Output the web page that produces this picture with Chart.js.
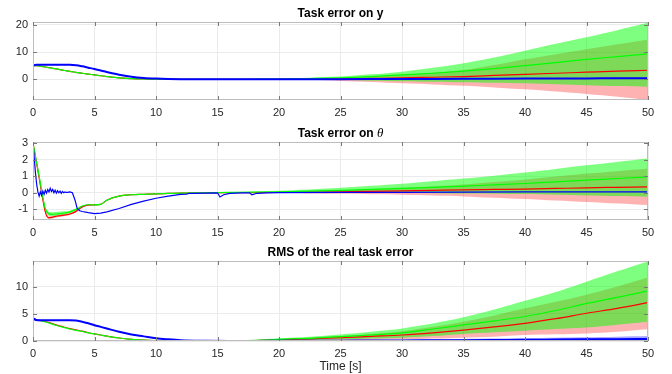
<!DOCTYPE html>
<html>
<head>
<meta charset="utf-8">
<script src="https://cdn.jsdelivr.net/npm/chart.js@4/dist/chart.umd.min.js"></script>
<style>
  html, body { margin: 0; padding: 0; background: #ffffff; }
  #wrap { position: relative; width: 672px; height: 374px; overflow: hidden; background: #ffffff; }
  #wrap canvas { position: absolute; left: 0; }
</style>
</head>
<body>
<div id="wrap">
  <canvas id="cY" width="672" height="120" style="top:0px"></canvas>
  <canvas id="cT" width="672" height="120" style="top:120px"></canvas>
  <canvas id="cR" width="672" height="134" style="top:240px"></canvas>
</div>
<script>
// ---- time bases [s] ----
const time = [0, 0.25, 0.5, 0.75, 1, 1.25, 1.5, 2, 2.5, 3, 3.5, 4, 4.5, 5, 5.5, 6, 7, 8, 9, 10,
              11, 12, 14, 16, 18, 20, 22.5, 25, 27.5, 30, 32.5, 35, 37.5, 40, 42.5, 45, 47.5, 50];
const lateTime = [14, 16, 18, 20, 22.5, 25, 27.5, 30, 32.5, 35, 37.5, 40, 42.5, 45, 47.5, 50];

// ---- tick labels ----
const xTicks = [0, 5, 10, 15, 20, 25, 30, 35, 40, 45, 50];
const yTicksY = [0, 10, 20];
const yTicksTheta = [-1, 0, 1, 2, 3];
const yTicksRms = [0, 5, 10];

// ---- task error on y ----
const yGreen = [5.0, 5.0, 4.9, 4.7, 4.5, 4.3, 4.1, 3.7, 3.3, 2.9, 2.55, 2.2, 1.9, 1.6, 1.3, 1.0, 0.5, 0.25, 0.1, 0.05,
                0.02, 0.0, 0.0, 0.0, 0.02, 0.05, 0.25, 0.55, 1.0, 1.6, 2.2, 3.0, 3.9, 5.0, 6.1, 7.3, 8.3, 9.3];
const yRed   = [5.0, 5.0, 4.9, 4.7, 4.5, 4.3, 4.1, 3.7, 3.3, 2.9, 2.55, 2.2, 1.9, 1.6, 1.3, 1.0, 0.5, 0.25, 0.1, 0.05,
                0.02, 0.0, 0.0, 0.0, 0.0, 0.0, 0.05, 0.1, 0.3, 0.5, 0.75, 1.0, 1.4, 1.8, 2.2, 2.6, 3.0, 3.3];
const yBlue  = [5.0, 5.3, 5.3, 5.3, 5.3, 5.3, 5.3, 5.3, 5.3, 5.3, 5.15, 4.75, 4.25, 3.75, 3.2, 2.65, 1.65, 0.95, 0.5, 0.25,
                0.1, 0.03, 0.0, 0.0, 0.0, 0.0, 0.02, 0.04, 0.06, 0.08, 0.12, 0.16, 0.2, 0.24, 0.28, 0.32, 0.36, 0.4];
const yGreenHi = [0.0, 0.03, 0.12, 0.3, 0.6, 1.0, 1.8, 2.8, 4.2, 5.9, 8.0, 10.5, 13.0, 15.4, 18.0, 20.7];
const yGreenLo = [0.0, 0.0, -0.03, -0.08, -0.15, -0.3, -0.5, -0.7, -0.9, -1.1, -1.3, -1.5, -1.85, -2.2, -2.5, -2.7];
const yRedHi   = [0.0, 0.02, 0.05, 0.12, 0.3, 0.6, 1.0, 1.6, 2.4, 3.4, 5.2, 7.3, 9.2, 11.0, 12.8, 14.6];
const yRedLo   = [0.0, -0.02, -0.05, -0.12, -0.3, -0.6, -1.0, -1.5, -1.9, -2.4, -3.0, -3.7, -4.5, -5.4, -6.4, -7.6];

// ---- task error on theta ----
const thetaGreen   = [3.0, 2.0, 1.0, -0.05, -0.95, -1.25, -1.3, -1.27, -1.22, -1.15, -1.0, -0.8, -0.72, -0.73, -0.7, -0.45, -0.2, -0.12, -0.09, -0.06,
                      -0.04, -0.02, 0.0, 0.02, 0.04, 0.06, 0.1, 0.15, 0.2, 0.27, 0.33, 0.4, 0.48, 0.56, 0.66, 0.76, 0.86, 0.96];
const thetaGreenHi = [3.0, 2.05, 1.1, 0.05, -0.85, -1.13, -1.18, -1.15, -1.12, -1.08, -0.95, -0.78, -0.7, -0.72, -0.7, -0.45, -0.2, -0.12, -0.09, -0.06,
                      -0.04, -0.02, 0.0, 0.04, 0.08, 0.12, 0.2, 0.3, 0.42, 0.55, 0.7, 0.86, 1.03, 1.22, 1.44, 1.66, 1.86, 2.06];
const thetaGreenLo = [3.0, 1.95, 0.9, -0.15, -1.05, -1.37, -1.4, -1.37, -1.32, -1.24, -1.06, -0.83, -0.74, -0.74, -0.7, -0.45, -0.2, -0.12, -0.09, -0.06,
                      -0.04, -0.02, 0.0, 0.0, 0.0, 0.0, 0.0, 0.0, -0.01, -0.02, -0.03, -0.05, -0.06, -0.08, -0.12, -0.16, -0.2, -0.24];
const thetaRed     = [3.0, 1.95, 0.9, -0.2, -1.15, -1.5, -1.48, -1.4, -1.35, -1.28, -1.12, -0.85, -0.74, -0.73, -0.7, -0.45, -0.2, -0.12, -0.09, -0.06,
                      -0.04, -0.02, 0.0, 0.01, 0.01, 0.02, 0.04, 0.06, 0.09, 0.12, 0.15, 0.18, 0.2, 0.22, 0.26, 0.3, 0.33, 0.36];
const thetaRedHi   = [3.0, 2.0, 0.98, -0.12, -1.07, -1.42, -1.4, -1.33, -1.28, -1.22, -1.07, -0.82, -0.72, -0.72, -0.7, -0.45, -0.2, -0.12, -0.09, -0.06,
                      -0.04, -0.02, 0.0, 0.02, 0.03, 0.05, 0.1, 0.15, 0.22, 0.3, 0.4, 0.5, 0.65, 0.8, 0.98, 1.16, 1.3, 1.46];
const thetaRedLo   = [3.0, 1.9, 0.82, -0.28, -1.23, -1.58, -1.56, -1.47, -1.42, -1.34, -1.17, -0.88, -0.76, -0.74, -0.7, -0.45, -0.2, -0.12, -0.09, -0.06,
                      -0.04, -0.02, 0.0, 0.0, -0.01, -0.02, -0.04, -0.06, -0.09, -0.12, -0.17, -0.22, -0.3, -0.38, -0.47, -0.56, -0.65, -0.74];
const thetaBlueTime = [0, 0.1, 0.2, 0.3, 0.4, 0.5, 0.6, 0.7, 0.8, 0.9,
                       1.0, 1.1, 1.2, 1.3, 1.4, 1.5, 1.6, 1.7, 1.8, 1.9,
                       2.0, 2.1, 2.2, 2.3, 2.4, 2.5, 2.6, 2.7, 2.8, 3.0,
                       3.2, 3.4, 3.6, 3.8, 4.0, 4.5, 5.0, 5.5, 6, 7,
                       8, 9, 10, 11, 12, 12.5, 12.7, 13, 14, 15,
                       15.2, 15.5, 16, 17, 17.6, 17.8, 18.2, 19, 20, 25,
                       30, 35, 40, 45, 50];
const thetaBlue = [3.0, 2.1, 1.2, 0.5, 0.05, -0.2, 0.05, -0.15, 0.1, -0.1,
                   0.15, -0.02, 0.2, 0.05, 0.27, 0.08, 0.2, 0.0, 0.15, -0.02,
                   0.12, 0.0, 0.1, -0.03, 0.08, 0.0, 0.05, 0.02, 0.03, 0.05,
                   0.0, -0.4, -0.95, -1.08, -1.13, -1.2, -1.25, -1.23, -1.15, -0.95,
                   -0.7, -0.5, -0.33, -0.2, -0.1, -0.08, -0.03, -0.04, -0.02, 0.0,
                   -0.25, -0.12, -0.04, 0.0, 0.0, -0.12, -0.03, 0.0, 0.01, 0.02,
                   0.03, 0.04, 0.05, 0.05, 0.06];

// ---- RMS of the real task error ----
const rmsGreen = [4.2, 3.95, 3.8, 3.65, 3.5, 3.35, 3.15, 2.8, 2.5, 2.2, 1.95, 1.75, 1.5, 1.3, 1.1, 0.9, 0.55, 0.3, 0.15, 0.08,
                  0.04, 0.02, 0.01, 0.05, 0.12, 0.3, 0.5, 0.8, 1.1, 1.5, 2.2, 2.95, 3.7, 4.5, 5.6, 6.9, 8.0, 9.2];
const rmsRed   = [4.2, 3.95, 3.8, 3.7, 3.58, 3.43, 3.23, 2.88, 2.58, 2.28, 2.03, 1.8, 1.52, 1.3, 1.1, 0.9, 0.55, 0.3, 0.15, 0.08,
                  0.04, 0.02, 0.01, 0.03, 0.08, 0.2, 0.4, 0.6, 0.85, 1.1, 1.5, 2.0, 2.6, 3.25, 4.1, 5.1, 6.0, 7.05];
const rmsBlue  = [4.2, 3.85, 3.8, 3.8, 3.8, 3.8, 3.8, 3.8, 3.8, 3.8, 3.75, 3.55, 3.25, 2.9, 2.6, 2.3, 1.7, 1.2, 0.85, 0.5,
                  0.3, 0.15, 0.05, 0.02, 0.02, 0.03, 0.04, 0.06, 0.08, 0.1, 0.13, 0.16, 0.19, 0.22, 0.26, 0.3, 0.34, 0.37];
const rmsGreenHi = [0.01, 0.08, 0.2, 0.5, 0.8, 1.2, 1.7, 2.3, 3.2, 4.35, 5.8, 7.4, 9.0, 10.9, 12.8, 14.6];
const rmsGreenLo = [0.01, 0.02, 0.05, 0.1, 0.2, 0.3, 0.45, 0.6, 0.9, 1.3, 1.6, 1.9, 2.2, 2.5, 3.0, 3.55];
const rmsRedHi   = [0.01, 0.05, 0.15, 0.35, 0.6, 0.9, 1.3, 1.8, 2.6, 3.55, 4.7, 6.0, 7.2, 8.5, 10.0, 11.65];
const rmsRedLo   = [0.01, 0.01, 0.02, 0.05, 0.1, 0.15, 0.2, 0.3, 0.45, 0.6, 0.8, 1.1, 1.25, 1.4, 1.7, 2.15];
const rmsBlueHi  = [0.05, 0.03, 0.04, 0.05, 0.07, 0.1, 0.15, 0.2, 0.28, 0.36, 0.45, 0.52, 0.6, 0.68, 0.78, 0.9];
const rmsBlueLo  = [0.05, 0.01, 0.01, 0.01, 0.01, 0.0, 0.0, 0.0, 0.0, 0.0, 0.0, 0.0, 0.0, 0.0, 0.0, 0.0];

// ---- styling ----
const RED = '#ff0000', GREEN = '#00ff00', BLUE = '#0000ff';
const RED_BAND = 'rgba(255,0,0,0.3)', GREEN_BAND = 'rgba(0,255,0,0.5)', BLUE_BAND = 'rgba(0,0,255,0.35)';
const SANS = '"Liberation Sans", Arial, Helvetica, sans-serif';
const TICK_COLOR = '#262626';

function pts(xs, ys) { return xs.map((x, i) => ({ x: x, y: ys[i] })); }

function bandSets(xs, hi, lo, color, order) {
  return [
    { data: pts(xs, hi), fill: '+1', backgroundColor: color, borderColor: 'rgba(0,0,0,0)',
      borderWidth: 0, pointRadius: 0, order: order, tension: 0.3 },
    { data: pts(xs, lo), fill: false, borderColor: 'rgba(0,0,0,0)',
      borderWidth: 0, pointRadius: 0, order: order, tension: 0.3 }
  ];
}

function lineSet(xs, ys, color, width, order, smooth) {
  const d = { data: pts(xs, ys), fill: false, borderColor: color, borderWidth: width,
              pointRadius: 0, order: order, tension: 0 };
  if (smooth) d.cubicInterpolationMode = 'monotone';
  return d;
}

// axes box, inward ticks and panel title
const framePlugin = {
  id: 'frame',
  afterDatasetsDraw(chart, args, opts) {
    const { ctx, chartArea: a, scales } = chart;
    ctx.save();
    ctx.strokeStyle = '#bdbdbd';
    ctx.lineWidth = 1;
    ctx.strokeRect(Math.round(a.left) + 0.5, Math.round(a.top) + 0.5,
                   Math.round(a.right - a.left) - 1, Math.round(a.bottom - a.top) - 1);
    ctx.strokeStyle = '#7a7a7a';
    ctx.beginPath();
    const tl = 4;
    scales.x.ticks.forEach(t => {
      const px = Math.round(scales.x.getPixelForValue(t.value)) + 0.5;
      ctx.moveTo(px, a.bottom); ctx.lineTo(px, a.bottom - tl);
      ctx.moveTo(px, a.top); ctx.lineTo(px, a.top + tl);
    });
    scales.y.ticks.forEach(t => {
      const py = Math.round(scales.y.getPixelForValue(t.value)) + 0.5;
      ctx.moveTo(a.left, py); ctx.lineTo(a.left + tl, py);
      ctx.moveTo(a.right, py); ctx.lineTo(a.right - tl, py);
    });
    ctx.stroke();

    // title, possibly mixing a bold label with an italic symbol
    const parts = opts.parts || [];
    let total = 0;
    parts.forEach(p => { ctx.font = p.font; p.w = ctx.measureText(p.text).width; total += p.w; });
    let x = (a.left + a.right) / 2 - total / 2;
    ctx.fillStyle = '#000000';
    ctx.textAlign = 'left';
    ctx.textBaseline = 'alphabetic';
    parts.forEach(p => { ctx.font = p.font; ctx.fillText(p.text, x, a.top - 5); x += p.w; });
    ctx.restore();
  }
};

function makeChart(id, cfg) {
  const tickFont = { family: SANS, size: 11 };
  const xScale = {
    type: 'linear', min: 0, max: 50,
    afterBuildTicks: s => { s.ticks = xTicks.map(v => ({ value: v })); },
    afterFit: s => { s.height = cfg.xHeight; },
    grid: { color: '#ebebeb', drawTicks: false },
    border: { display: false },
    ticks: { padding: 6, font: tickFont, color: TICK_COLOR, maxRotation: 0, autoSkip: false }
  };
  if (cfg.xTitle) {
    xScale.title = { display: true, text: cfg.xTitle, color: TICK_COLOR,
                     font: { family: SANS, size: 12 }, padding: { top: 0, bottom: 0 } };
  }
  return new Chart(document.getElementById(id), {
    type: 'line',
    data: { datasets: cfg.datasets },
    options: {
      responsive: false, animation: false, devicePixelRatio: 1, events: [],
      layout: { padding: { top: cfg.top, right: 24, left: 0, bottom: 0 } },
      plugins: {
        legend: { display: false }, tooltip: { enabled: false }, title: { display: false },
        frame: { parts: cfg.title }
      },
      scales: {
        x: xScale,
        y: {
          type: 'linear', min: cfg.yMin, max: cfg.yMax,
          afterBuildTicks: s => { s.ticks = cfg.yTicks.map(v => ({ value: v })); },
          afterFit: s => { s.width = 33; },
          grid: { color: '#ebebeb', drawTicks: false },
          border: { display: false },
          ticks: { padding: 5, font: tickFont, color: TICK_COLOR }
        }
      }
    },
    plugins: [framePlugin]
  });
}

const TITLE_FONT = 'bold 12px ' + SANS;

makeChart('cY', {
  top: 22, xHeight: 20, yMin: -7.6, yMax: 21.0, yTicks: yTicksY,
  title: [{ text: 'Task error on y', font: TITLE_FONT }],
  datasets: [
    ...bandSets(lateTime, yRedHi, yRedLo, RED_BAND, 10),
    ...bandSets(lateTime, yGreenHi, yGreenLo, GREEN_BAND, 9),
    lineSet(time, yRed, RED, 1.2, 3, true),
    lineSet(time, yGreen, GREEN, 1.2, 2, true),
    lineSet(time, yBlue, BLUE, 2, 1, true)
  ]
});

makeChart('cT', {
  top: 22, xHeight: 20, yMin: -1.64, yMax: 3.06, yTicks: yTicksTheta,
  title: [{ text: 'Task error on ', font: TITLE_FONT },
          { text: '\u03B8', font: 'italic 13px "Liberation Serif", "DejaVu Serif", serif' }],
  datasets: [
    ...bandSets(time, thetaRedHi, thetaRedLo, RED_BAND, 10),
    ...bandSets(time, thetaGreenHi, thetaGreenLo, GREEN_BAND, 9),
    lineSet(time, thetaRed, RED, 1.2, 3, true),
    lineSet(time, thetaGreen, GREEN, 1.2, 2, true),
    lineSet(thetaBlueTime, thetaBlue, BLUE, 1.2, 1, false)
  ]
});

makeChart('cR', {
  top: 21, xHeight: 33, yMin: 0, yMax: 14.7, yTicks: yTicksRms, xTitle: 'Time [s]',
  title: [{ text: 'RMS of the real task error', font: TITLE_FONT }],
  datasets: [
    ...bandSets(lateTime, rmsRedHi, rmsRedLo, RED_BAND, 10),
    ...bandSets(lateTime, rmsGreenHi, rmsGreenLo, GREEN_BAND, 9),
    ...bandSets(lateTime, rmsBlueHi, rmsBlueLo, BLUE_BAND, 8),
    lineSet(time, rmsRed, RED, 1.2, 3, true),
    lineSet(time, rmsGreen, GREEN, 1.2, 2, true),
    lineSet(time, rmsBlue, BLUE, 2, 1, true)
  ]
});
</script>
</body>
</html>
